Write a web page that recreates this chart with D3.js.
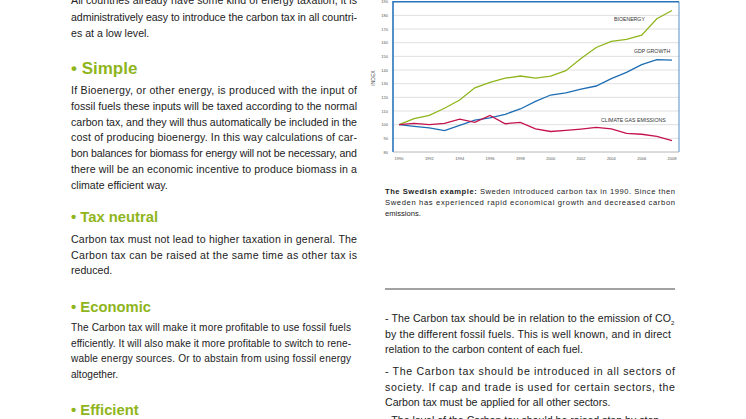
<!DOCTYPE html>
<html><head><meta charset="utf-8">
<script src="https://cdn.jsdelivr.net/npm/d3@7"></script>
<style>body{margin:0;background:#fff}svg{display:block}</style>
</head><body><svg id="c" width="746" height="419"></svg>
<script>
const years = d3.range(1990, 2009);
const bioenergy = [100,104.4,106.8,112,118,127,131,134,135.6,134,135.6,139.5,148.5,156.5,161,162.5,165.5,177.5,183.6];
const gdp = [100,98.8,97.6,95.6,99.5,103.4,105,107.6,111.5,117,121.7,123.2,126,128.3,133.7,138.3,144,147.6,147.3];
const emissions = [100,101,100,101,104,101.7,106.8,100.7,101.7,97,95,95.8,96.8,98,97,93.6,93,91.4,88.3];
const yTicks = d3.range(80, 200, 10);
const xTicks = d3.range(1990, 2009, 2);
const seriesNames = ["BIOENERGY","GDP GROWTH","CLIMATE GAS EMISSIONS"];

const svg = d3.select("#c");
const F = "Liberation Sans, Arial, sans-serif";
const green = "#8fb51c", blue = "#1d6db4", red = "#c4124b", txt = "#222";

function para(lines, x, y0, dy, w, size, color) {
  lines.forEach((l, i) => {
    const t = svg.append("text").attr("x", x).attr("y", y0 + i*dy)
      .attr("font-family", F).attr("font-size", size).attr("fill", color || txt).text(l);
    if (i < lines.length - 1) t.attr("textLength", w).attr("lengthAdjust", "spacing");
  });
}
function head(s, x, y, size) {
  svg.append("text").attr("x", x).attr("y", y).attr("font-family", F).attr("font-weight", "bold")
    .attr("font-size", size).attr("fill", green).text("• " + s);
}
para(["All countries already have some kind of energy taxation, it is",
      "administratively easy to introduce the carbon tax in all countri-",
      "es at a low level."], 71, 4, 16.5, 286, 10.6);
head("Simple", 71, 74, 17);
para(["If Bioenergy, or other energy, is produced with the input of",
      "fossil fuels these inputs will be taxed according to the normal",
      "carbon tax, and they will thus automatically be included in the",
      "cost of producing bioenergy. In this way calculations of car-",
      "bon balances for biomass for energy will not be necessary, and",
      "there will be an economic incentive to produce biomass in a",
      "climate efficient way."], 71, 94, 15.8, 286, 10.6);
head("Tax neutral", 71, 222, 14.8);
para(["Carbon tax must not lead to higher taxation in general. The",
      "Carbon tax can be raised at the same time as other tax is",
      "reduced."], 71, 243, 15.5, 286, 10.6);
head("Economic", 71, 312, 14.8);
para(["The Carbon tax will make it more profitable to use fossil fuels",
      "efficiently. It will also make it more profitable to switch to rene-",
      "wable energy sources. Or to abstain from using fossil energy",
      "altogether."], 71, 331, 15.5, 280, 10.1);
head("Efficient", 71, 415, 14.8);

const cap = svg.append("text").attr("x", 385).attr("y", 194).attr("font-family", F).attr("font-size", 7.6).attr("fill", txt)
  .attr("textLength", 290).attr("lengthAdjust", "spacing");
cap.append("tspan").attr("font-weight", "bold").text("The Swedish example: ");
cap.append("tspan").text("Sweden introduced carbon tax in 1990. Since then");
para(["Sweden has experienced rapid economical growth and decreased carbon", "emissions."], 385, 205, 11, 290, 7.6);

svg.append("line").attr("x1", 385).attr("x2", 675).attr("y1", 289).attr("y2", 289).attr("stroke", "#444").attr("stroke-width", 1);

para(["- The Carbon tax should be in relation to the emission of CO",
      "by the different fossil fuels. This is well known, and in direct",
      "relation to the carbon content of each fuel."], 385, 322, 15.5, 286, 10.6);
svg.append("text").attr("x", 671).attr("y", 325).attr("font-family", F).attr("font-size", 6).attr("fill", txt).text("2");
para(["- The Carbon tax should be introduced in all sectors of",
      "society. If cap and trade is used for certain sectors, the",
      "Carbon tax must be applied for all other sectors."], 385, 375, 15.5, 290, 10.6);
para(["- The level of the Carbon tax should be raised step by step"], 385, 424, 15.5, 290, 10.6);

const x = d3.scaleLinear().domain([1990, 2008]).range([399, 672]);
const y = d3.scaleLinear().domain([80, 190]).range([152, 1.7]);
const g = svg.append("g");
g.selectAll("line.grid").data(yTicks).join("line").attr("x1", 393).attr("x2", 679)
  .attr("y1", d => y(d)).attr("y2", d => y(d)).attr("stroke", "#d8d8d8").attr("stroke-width", 0.8);
g.append("path").attr("d", `M679,${y(190)}H393V${y(80)}`).attr("fill", "none").attr("stroke", "#2a74bb").attr("stroke-width", 1.6);
g.append("line").attr("x1", 679).attr("x2", 679).attr("y1", y(190)).attr("y2", y(80)).attr("stroke", "#2a74bb").attr("stroke-width", 0.8);
g.append("line").attr("x1", 393).attr("x2", 679).attr("y1", y(80)).attr("y2", y(80)).attr("stroke", "#bbb").attr("stroke-width", 0.8);
g.selectAll("text.yt").data(yTicks).join("text").attr("x", 388).attr("y", d => y(d) + 1.5)
  .attr("text-anchor", "end").attr("font-family", F).attr("font-size", 4).attr("fill", "#555").text(d => d);
g.selectAll("text.xt").data(xTicks).join("text").attr("x", d => x(d)).attr("y", 160)
  .attr("text-anchor", "middle").attr("font-family", F).attr("font-size", 4).attr("fill", "#555").text(d => d);
g.append("text").attr("transform", `translate(375,78) rotate(-90)`).attr("text-anchor", "middle")
  .attr("font-family", F).attr("font-size", 5).attr("fill", "#444").text("INDEX");

const line = d3.line().x((d, i) => x(years[i])).y(d => y(d));
[[bioenergy, green], [gdp, blue], [emissions, red]].forEach(([s, c]) => {
  g.append("path").attr("d", line(s)).attr("fill", "none").attr("stroke", c).attr("stroke-width", 1.3);
});
[[seriesNames[0], 614, 21], [seriesNames[1], 634, 53], [seriesNames[2], 601, 122]].forEach(([t, xx, yy]) => {
  g.append("text").attr("x", xx).attr("y", yy).attr("font-family", F).attr("font-size", 5.2).attr("fill", "#333").text(t);
});
</script></body></html>
